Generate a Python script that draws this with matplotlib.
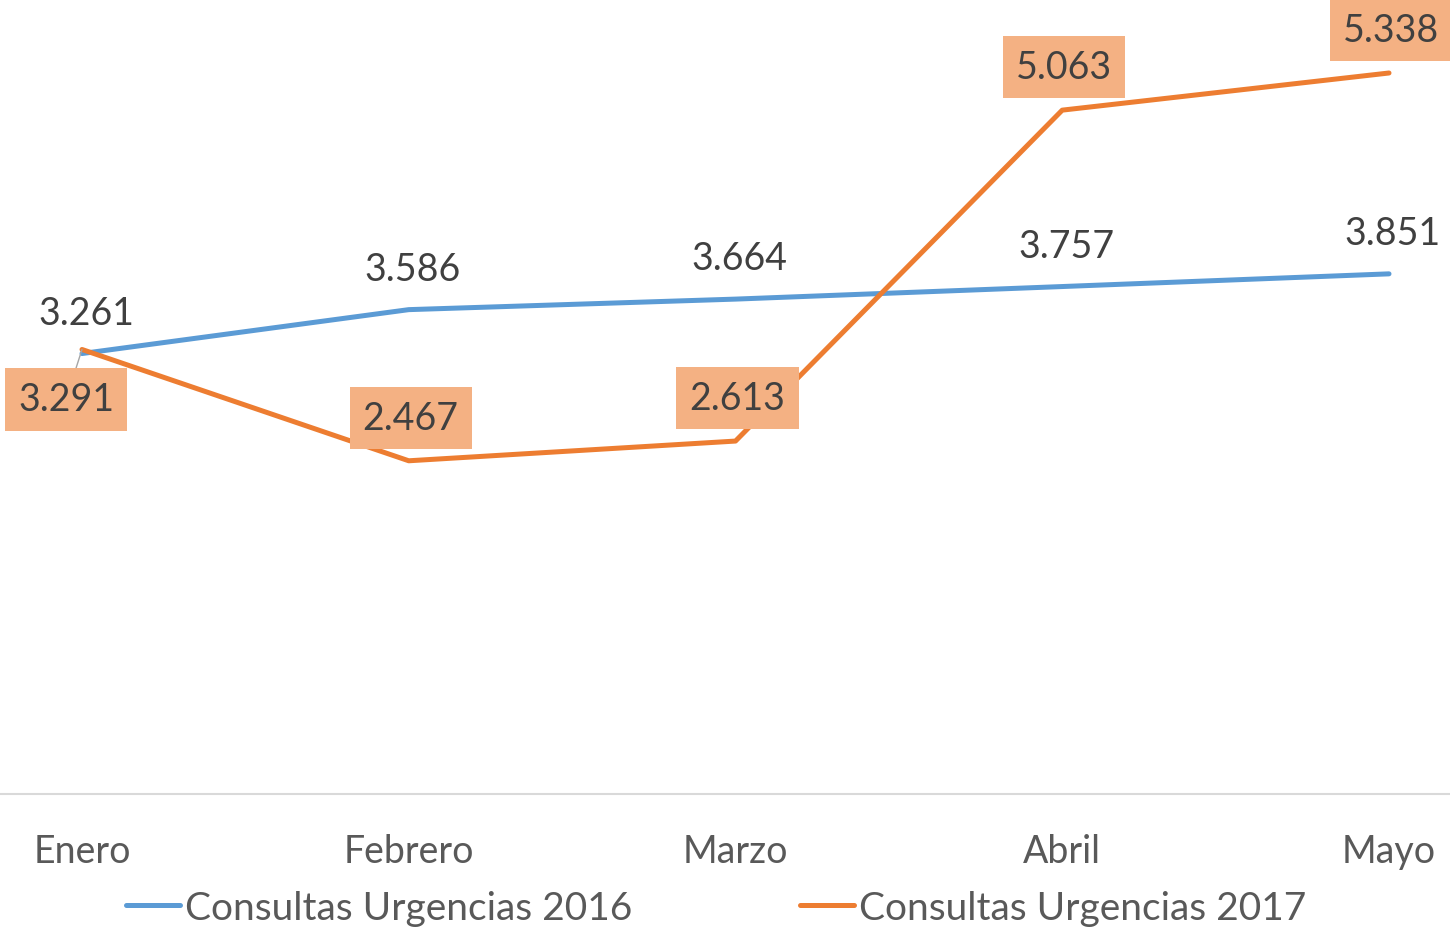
import matplotlib
matplotlib.use("Agg")
import matplotlib.pyplot as plt

months = ["Enero", "Febrero", "Marzo", "Abril", "Mayo"]
urg_2016 = [3261, 3586, 3664, 3757, 3851]
urg_2017 = [3291, 2467, 2613, 5063, 5338]
labels_2016 = ["3.261", "3.586", "3.664", "3.757", "3.851"]
labels_2017 = ["3.291", "2.467", "2.613", "5.063", "5.338"]

plt.rcParams['font.family'] = ['Lato', 'DejaVu Sans']
W, H = 1450, 928
fig = plt.figure(figsize=(W/100, H/100), dpi=100)
ax = fig.add_axes([0, (H-795)/H, 1, 795/H])

blue = "#5B9BD5"
orange = "#ED7D31"
box = "#F4B183"
txt = "#404040"
fs = 27

x = list(range(len(months)))
ax.plot(x, urg_2016, color=blue, lw=3.6, solid_capstyle='round',
        solid_joinstyle='round', label="Consultas Urgencias 2016", zorder=3)
ax.plot(x, urg_2017, color=orange, lw=3.6, solid_capstyle='round',
        solid_joinstyle='round', label="Consultas Urgencias 2017", zorder=4)

ax.set_xlim(-82*4/1307, 4 + 61*4/1307)
ax.set_ylim(0, 795/0.13507)

for i, (v, s) in enumerate(zip(urg_2016, labels_2016)):
    ax.annotate(s, (i, v), xytext=(4, 41), textcoords='offset pixels',
                ha='center', va='center', fontsize=fs, color=txt, zorder=5)

for i, (v, s) in enumerate(zip(urg_2017, labels_2017)):
    if i == 0:
        ax.annotate(s, (i, v), xytext=(-16, -50), textcoords='offset pixels',
                    ha='center', va='center', fontsize=fs, color=txt, zorder=6,
                    bbox=dict(boxstyle='square,pad=0.35', fc=box, ec='none'),
                    arrowprops=dict(arrowstyle='-', color='#A6A6A6', lw=1,
                                    shrinkA=0, shrinkB=0))
    else:
        ax.annotate(s, (i, v), xytext=(2, 43), textcoords='offset pixels',
                    ha='center', va='center', fontsize=fs, color=txt, zorder=6,
                    bbox=dict(boxstyle='square,pad=0.35', fc=box, ec='none'))

for sp in ['top', 'right', 'left']:
    ax.spines[sp].set_visible(False)
ax.spines['bottom'].set_color('#D9D9D9')
ax.spines['bottom'].set_linewidth(1.5)
ax.set_yticks([])
ax.set_xticks(x)
ax.set_xticklabels(months)
ax.tick_params(axis='x', length=0, pad=28, labelsize=fs, labelcolor='#595959')
ax.patch.set_alpha(0)

fig.legend(loc='center', bbox_to_anchor=(0.494, (H-909)/H), ncol=2, frameon=False,
           fontsize=28, handlelength=1.4, handletextpad=0.13, columnspacing=4.3,
           labelcolor='#595959')

fig.savefig("out.png", dpi=100)
